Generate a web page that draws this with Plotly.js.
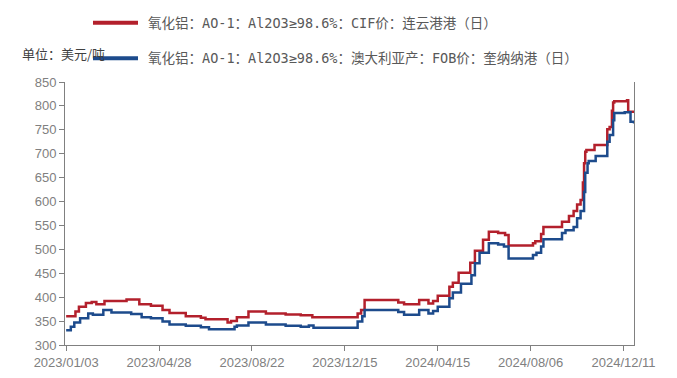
<!DOCTYPE html>
<html>
<head>
<meta charset="utf-8">
<script src="https://cdn.plot.ly/plotly-3.0.1.min.js"></script>
<style>html,body{margin:0;padding:0;background:#fff;}#chart{width:677px;height:378px;}</style>
</head>
<body>
<div id="chart"></div>
<script>
// Trading-day index (x) where the price changes, and the price (USD/t)
const cifX = [0,8,11,17,22,26,33,52,63,73,83,89,103,116,120,139,142,147,157,172,189,202,212,251,254,257,286,291,304,312,316,320,330,333,338,348,352,359,364,372,378,381,402,404,409,411,427,433,437,440,443,445,446,447,448,455,466,468,470,471,472,483,484,489];
const cifY = [360,370,380,388,390,385,392,395,385,382,373,367,360,357,354,347,350,358,370,366,364,362,358,366,373,394,389,385,394,387,392,403,422,430,451,472,497,520,537,534,530,508,513,517,532,547,558,570,580,594,603,640,680,704,708,718,751,756,790,807,810,812,788,790];
const fobX = [0,4,7,12,19,23,32,39,56,65,73,83,89,103,116,123,145,147,157,172,189,202,209,213,251,255,257,286,291,304,312,316,320,330,333,340,349,352,356,364,372,377,381,402,405,409,411,427,430,437,440,443,446,447,449,450,456,466,468,471,472,481,486,489];
const fobY = [331,338,347,356,366,363,373,368,365,358,356,349,343,340,337,333,338,341,347,343,340,338,341,336,349,360,373,369,363,373,366,371,380,398,410,428,446,471,493,513,510,506,481,488,493,506,521,534,540,547,565,580,620,660,680,685,695,725,739,770,785,787,767,763];
const tickIdx = [0,80,160,240,320,400,480];
const tickLabels = ['2023/01/03','2023/04/28','2023/08/22','2023/12/15','2024/04/15','2024/08/06','2024/12/11'];
const cifName = '氧化铝：AO-1：Al2O3≥98.6%：CIF价：连云港港（日）';
const fobName = '氧化铝：AO-1：Al2O3≥98.6%：澳大利亚产：FOB价：奎纳纳港（日）';
const unitText = '单位：美元/吨';
const cifColor = '#B3202C';
const fobColor = '#1D4B8C';

const traces = [
  {x: cifX, y: cifY, name: cifName, type: 'scatter', mode: 'lines',
   line: {shape: 'hv', color: cifColor, width: 2.5}},
  {x: fobX, y: fobY, name: fobName, type: 'scatter', mode: 'lines',
   line: {shape: 'hv', color: fobColor, width: 2.5}}
];
const legFont = {family: '"DejaVu Sans Mono", "Noto Sans CJK SC", monospace', size: 13.5, color: '#595959'};
const legY1 = 1.2255, legY2 = 1.0901;
const layout = {
  width: 677, height: 378,
  margin: {l: 65, r: 43, t: 82, b: 33},
  paper_bgcolor: '#fff', plot_bgcolor: '#fff',
  showlegend: false,
  xaxis: {
    range: [-1, 489], tickvals: tickIdx, ticktext: tickLabels,
    showgrid: false, zeroline: false, showline: true, linecolor: '#808080', linewidth: 1,
    ticks: 'outside', ticklen: 5, tickcolor: '#808080',
    tickfont: {family: '"Liberation Sans", Arial, sans-serif', size: 13, color: '#808080'}
  },
  yaxis: {
    range: [300, 850], dtick: 50, tick0: 300,
    showgrid: false, zeroline: false, showline: true, linecolor: '#808080', linewidth: 1,
    mirror: true,
    ticks: 'outside', ticklen: 5, tickcolor: '#808080',
    tickfont: {family: '"Liberation Sans", Arial, sans-serif', size: 13, color: '#808080'}
  },
  annotations: [
    {text: unitText, xref: 'paper', yref: 'paper', x: -0.079, y: 1.109, xanchor: 'left', yanchor: 'middle',
     showarrow: false, font: {family: '"Noto Sans CJK SC", sans-serif', size: 13, color: '#404040'}},
    {text: cifName, xref: 'paper', yref: 'paper', x: 0.1415, y: legY1, xanchor: 'left', yanchor: 'middle',
     showarrow: false, font: legFont},
    {text: fobName, xref: 'paper', yref: 'paper', x: 0.1415, y: legY2, xanchor: 'left', yanchor: 'middle',
     showarrow: false, font: legFont}
  ],
  shapes: [
    {type: 'line', xref: 'paper', yref: 'paper', x0: 0.0492, x1: 0.1283, y0: legY1, y1: legY1,
     line: {color: cifColor, width: 4}},
    {type: 'line', xref: 'paper', yref: 'paper', x0: 0.0492, x1: 0.1283, y0: legY2, y1: legY2,
     line: {color: fobColor, width: 4}}
  ]
};
Plotly.newPlot('chart', traces, layout, {displayModeBar: false, staticPlot: true});
</script>
</body>
</html>
